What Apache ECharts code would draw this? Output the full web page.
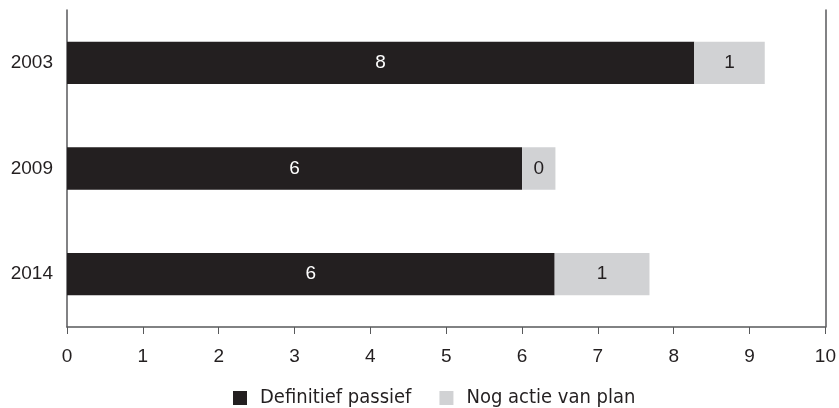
<!DOCTYPE html>
<html><head><meta charset="utf-8">
<script src="https://cdn.jsdelivr.net/npm/echarts@6/dist/echarts.min.js"></script>
<style>html,body{margin:0;padding:0;background:#fff}#c{width:839px;height:408px}</style>
</head><body><div id="c"></div>
<script>
const categories = ['2003', '2009', '2014'];
const definitiefPassief = [8.27, 6.0, 6.43];
const nogActie = [0.93, 0.44, 1.25];
const seriesNames = ['Definitief passief', 'Nog actie van plan'];
const xTicks = [0, 1, 2, 3, 4, 5, 6, 7, 8, 9, 10];

const FONT = '"Liberation Sans", Arial, sans-serif';
const NARROW = '"Liberation Sans Narrow", "DejaVu Sans Condensed", sans-serif';
const chart = echarts.init(document.getElementById('c'));
chart.setOption({
  animation: false,
  textStyle: { fontFamily: FONT },
  grid: { left: 67, right: 12, top: 10, bottom: 81 },
  legend: {
    bottom: 0, left: 233, padding: 0, itemWidth: 14, itemHeight: 14, itemGap: 28,
    icon: 'rect',
    textStyle: { fontFamily: NARROW, fontSize: 20, color: '#231f20', padding: [0, 0, 0, 8] },
    data: seriesNames
  },
  xAxis: {
    type: 'value', min: xTicks[0], max: xTicks[xTicks.length - 1], interval: 1,
    axisLine: { show: true, lineStyle: { color: '#58595b', width: 1.5 } },
    axisTick: { show: true, length: 7, lineStyle: { color: '#58595b' } },
    axisLabel: { fontFamily: FONT, fontSize: 19, color: '#231f20', margin: 20 },
    splitLine: { show: false }
  },
  yAxis: [{
    type: 'category', inverse: true, data: categories,
    axisLine: { show: true, lineStyle: { color: '#58595b', width: 1.5 } },
    axisTick: { show: false },
    axisLabel: { fontFamily: FONT, fontSize: 19, color: '#231f20', margin: 14 }
  }, {
    type: 'category', inverse: true, data: categories, position: 'right',
    axisLine: { show: true, lineStyle: { color: '#58595b', width: 1.5 } },
    axisTick: { show: false }, axisLabel: { show: false }
  }],
  series: [{
    name: seriesNames[0], type: 'bar', stack: 't', data: definitiefPassief,
    barWidth: '40%',
    itemStyle: { color: '#231f20' },
    label: { show: true, position: 'inside', color: '#ffffff', fontFamily: FONT, fontSize: 19,
      formatter: p => Math.round(p.value) }
  }, {
    name: seriesNames[1], type: 'bar', stack: 't', data: nogActie,
    barWidth: '40%',
    itemStyle: { color: '#d1d2d4' },
    label: { show: true, position: 'inside', color: '#231f20', fontFamily: FONT, fontSize: 19,
      formatter: p => Math.round(p.value) }
  }]
});
</script></body></html>
